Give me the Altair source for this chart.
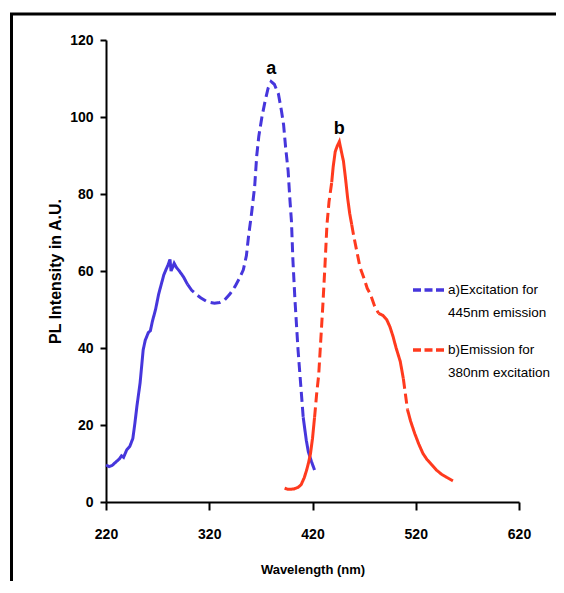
import altair as alt
import pandas as pd

# ---------------- data ----------------
series_names = ["a)Excitation for 445nm emission", "b)Emission for 380nm excitation"]
legend_lines = ["a)Excitation for\n445nm emission", "b)Emission for\n380nm excitation"]
peak_labels = ["a", "b"]
series_colors = ["#4636dc", "#ff3a1e"]

ex_wl = [220, 223, 226, 230, 233, 235, 237, 240, 243, 246, 248, 250, 253, 256, 258, 261,
         263, 265, 268, 271, 273, 276, 278, 280, 282, 283, 284.6, 286, 288, 291, 295, 299,
         303, 308, 312, 318, 325, 330, 335, 340, 345, 349, 353, 356, 358, 361, 364, 366,
         368, 371, 374, 377, 380, 383, 387, 390, 392, 394, 396.4, 398, 399.6, 401, 403,
         406, 409, 411, 414, 416, 419, 422]
ex_int = [9.6, 9.2, 9.5, 10.5, 11.2, 12.0, 11.6, 13.5, 14.4, 16.5, 20.5, 25, 30.9, 39.5, 42, 44,
          44.5, 47, 50, 54, 56, 59, 60.3, 61.5, 63, 60, 61, 62, 61, 60, 58.5, 56.5,
          55, 53.8, 53, 52, 51.6, 51.8, 52.5, 54, 56, 58, 60.3, 64, 68.9, 75, 82, 90,
          95, 100, 104, 107.5, 109.2, 108.5, 106, 101.5, 98, 92, 86, 79, 73, 63, 52.5,
          39.5, 29, 22, 16, 13, 10.5, 8.3]
ex_dashed = [(301, 411)]

em_wl = [393, 396, 399, 402, 406, 409, 412, 414, 416, 418, 420, 422, 424, 426, 428, 430,
         432, 434, 436, 438.6, 440, 442, 444, 446, 448, 450, 452, 454, 456, 458, 460, 463,
         466, 470, 473, 476, 480, 484, 488, 492, 495, 498, 501, 505, 508, 510, 512, 515,
         519, 523, 527, 531, 535, 540, 545, 550, 556]
em_int = [3.6, 3.3, 3.3, 3.4, 3.8, 4.5, 6.3, 8, 10, 12.5, 16.5, 22, 28, 33, 42, 51,
          61, 72, 78, 83, 87, 91, 92.5, 93.6, 91, 88.5, 84, 79, 75, 72, 69, 65,
          61, 58, 55.5, 54, 51, 49, 48.5, 47.3, 45.5, 43, 40, 36.5, 32, 28, 24, 21,
          17.8, 15, 12.6, 11, 9.8, 8.3, 7.2, 6.4, 5.5]
em_dashed = [(423, 438), (458, 483), (509, 512)]

x_ticks = [220, 320, 420, 520, 620]
y_ticks = [0, 20, 40, 60, 80, 100, 120]


def build(name, wl, it, dashed):
    rows = []
    seg = 0
    prev_style = None
    for i in range(len(wl) - 1):
        mid = (wl[i] + wl[i + 1]) / 2
        style = "dash" if any(a <= mid <= b for a, b in dashed) else "solid"
        if style != prev_style:
            seg += 1
            prev_style = style
            rows.append(dict(series=name, seg=f"{name}-{seg}", style=style, wl=wl[i], val=it[i]))
        rows.append(dict(series=name, seg=f"{name}-{seg}", style=style, wl=wl[i + 1], val=it[i + 1]))
    return rows


rows = build(series_names[0], ex_wl, ex_int, ex_dashed) + build(series_names[1], em_wl, em_int, em_dashed)
df = pd.DataFrame(rows)
df["ord"] = range(len(df))

peaks = pd.DataFrame({
    "label": peak_labels,
    "wl": [ex_wl[ex_int.index(max(ex_int))], em_wl[em_int.index(max(em_int))]],
    "val": [max(ex_int), max(em_int)],
})

FONT = "Liberation Sans, Arial, sans-serif"

x_enc = alt.X("wl:Q", scale=alt.Scale(domain=[220, 620], nice=False),
              axis=alt.Axis(values=x_ticks, title="Wavelength (nm)", tickSize=8, labelFlush=False,
                            labelPadding=17, titlePadding=22, titleFontSize=13))
y_enc = alt.Y("val:Q", scale=alt.Scale(domain=[0, 120], nice=False),
              axis=alt.Axis(values=y_ticks, title="PL Intensity in A.U.", tickSize=6, labelFlush=False,
                            labelPadding=7, titlePadding=6, titleFontSize=16))

color = alt.Color("series:N", scale=alt.Scale(domain=series_names, range=series_colors), legend=None)

lines = alt.Chart(df).mark_line(strokeWidth=3).encode(
    x=x_enc,
    y=y_enc,
    color=color,
    strokeDash=alt.StrokeDash("style:N", scale=alt.Scale(domain=["solid", "dash"], range=[[1, 0], [10, 5]]),
                              legend=None),
    detail="seg:N",
    order="ord:Q",
)

labels = alt.Chart(peaks).mark_text(font=FONT, fontSize=18, fontWeight="bold", color="black",
                                    baseline="bottom", dy=-4).encode(
    x="wl:Q", y="val:Q", text="label:N")

frame = alt.Chart(pd.DataFrame({"k": [0]})).mark_rect(filled=False, stroke="black", strokeWidth=3).encode(
    x=alt.value(-94.5), x2=alt.value(480), y=alt.value(-26), y2=alt.value(620))

legend_layers = []
for i in range(2):
    ld = pd.DataFrame({"series": [series_names[i]], "txt": [legend_lines[i]]})
    legend_layers.append(
        alt.Chart(ld).mark_rule(strokeWidth=3.5, strokeDash=[8, 3.5]).encode(
            x=alt.value(307), x2=alt.value(338), y=alt.value(250 + 60 * i), color=color)
    )
    legend_layers.append(
        alt.Chart(ld).mark_text(font=FONT, fontSize=13.5, color="black", align="left", baseline="middle",
                                lineBreak="\n", lineHeight=23).encode(
            x=alt.value(342), y=alt.value(250 + 60 * i), text="txt:N")
    )

chart = alt.layer(frame, lines, labels, *legend_layers).properties(
    width=413, height=462,
    padding={"left": 98, "top": 32, "right": 37, "bottom": 79},
    autosize=alt.AutoSizeParams(type="none"),
).configure_view(stroke=None).configure_axis(
    grid=False,
    domainColor="black", domainWidth=2,
    tickColor="black", tickWidth=2,
    labelFont=FONT, labelFontSize=14, labelFontWeight="bold", labelColor="black",
    titleFont=FONT, titleFontWeight="bold", titleColor="black",
)

chart.save("out.html", embed_options={"renderer": "svg", "actions": False})
